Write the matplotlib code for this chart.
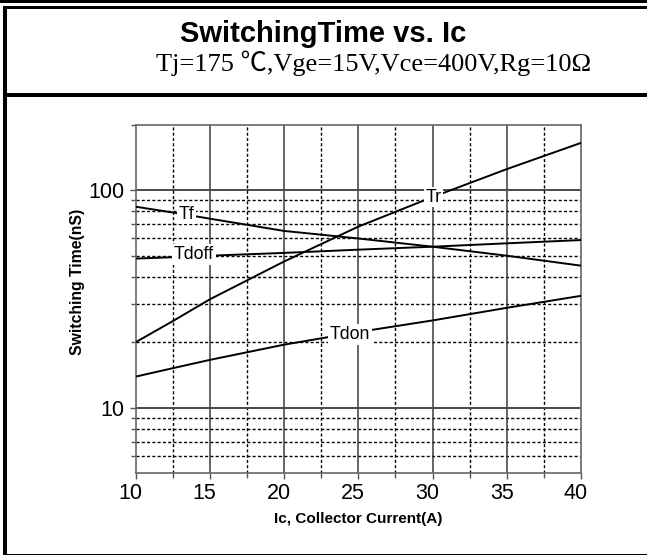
import matplotlib
matplotlib.use("Agg")
import matplotlib.pyplot as plt
from matplotlib.patches import Rectangle
from matplotlib.transforms import ScaledTranslation
from matplotlib.ticker import FixedLocator, NullFormatter, FixedFormatter

# ---- data ----
ic = [10, 12.5, 15, 20, 25, 30, 35, 40]
tr = [20, 25, 31.5, 47, 68, 93, 125, 165]
tf = [84, 79, 74, 65, 60, 55, 50, 45]
tdoff = [48.5, 49.2, 50, 51.5, 53.3, 55, 57, 59]
tdon = [13.9, 15.2, 16.6, 19.5, 22.3, 25.2, 28.8, 32.7]

title = "SwitchingTime vs. Ic"
subtitle = "Tj=175 \u2103,Vge=15V,Vce=400V,Rg=10\u03a9"
xlabel = "Ic, Collector Current(A)"
ylabel = "Switching Time(nS)"
x_major = [10, 15, 20, 25, 30, 35, 40]
x_minor = [12.5, 17.5, 22.5, 27.5, 32.5, 37.5]
y_major = [10, 100]
y_minor = [6, 7, 8, 9, 20, 30, 40, 50, 60, 70, 80, 90, 200]
y_grid_minor = [6, 7, 8, 9, 20, 30, 40, 50, 60, 70, 80, 90]

W, H = 647, 556
plt.rcParams['font.family'] = ['Liberation Sans', 'DejaVu Sans']
fig = plt.figure(figsize=(W / 100, H / 100), dpi=100)
fig.patch.set_facecolor('white')


def rect(x0, y0, x1, y1):
    # pixel coords (top-left origin) -> figure fraction
    fig.add_artist(Rectangle((x0 / W, 1 - y1 / H), (x1 - x0) / W, (y1 - y0) / H,
                             transform=fig.transFigure, facecolor='black',
                             edgecolor='none', zorder=10))


rect(0, 0, W, 3)
rect(3.3, 5.7, W, 9.3)
rect(3.3, 5.7, 7.3, 555)
rect(3.3, 92.7, W, 96.7)
rect(3.3, 553.6, W, 555.2)

fig.text(323.5 / W, 1 - 34 / H, title, ha='center', va='center',
         fontsize=21, fontweight='bold', family=['Liberation Sans', 'DejaVu Sans'])
fig.text(373.5 / W, 1 - 63 / H, subtitle, ha='center', va='center',
         fontsize=19, family=['Liberation Serif', 'Noto Sans CJK SC', 'DejaVu Serif'])

L, R, T, B = 135.5, 581, 124.7, 473.3
ax = fig.add_axes([L / W, 1 - B / H, (R - L) / W, (B - T) / H])
ax.set_yscale('log')
ax.set_xlim(10, 40)
ax.set_ylim(5, 200)

for v in x_minor:
    ax.axvline(v, color='black', lw=1.0, ls=(0, (2.2, 1.6)), zorder=1)
for v in y_grid_minor:
    ax.axhline(v, color='black', lw=1.0, ls=(0, (2.2, 1.6)), zorder=1)
for v in x_major[1:-1]:
    ax.axvline(v, color='#3a3a3a', lw=1.1, zorder=1.2)
for v in y_major:
    ax.axhline(v, color='#4a4a4a', lw=1.4, zorder=1.2)

lw = 1.4
ax.plot(ic, tr, color='black', lw=lw, zorder=3)
ax.plot(ic, tf, color='black', lw=lw, zorder=3)
ax.plot(ic, tdoff, color='black', lw=lw, zorder=3)
ax.plot(ic, tdon, color='black', lw=lw, zorder=3)

fs = 12.8
ax.text(13.43, 77.4, "Tf", ha='center', va='center', fontsize=fs,
        bbox=dict(facecolor='white', edgecolor='none', pad=1.0), zorder=4)
ax.text(13.94, 50.8, "Tdoff", ha='center', va='center', fontsize=fs,
        bbox=dict(facecolor='white', edgecolor='none', pad=1.5), zorder=4)
ax.text(30.05, 92.8, "Tr", ha='center', va='center', fontsize=fs,
        bbox=dict(facecolor='white', edgecolor='none', pad=1.0), zorder=4)
ax.text(24.44, 21.8, "Tdon", ha='center', va='center', fontsize=fs,
        bbox=dict(facecolor='white', edgecolor='none', pad=1.5), zorder=4)

ax.xaxis.set_major_locator(FixedLocator(x_major))
ax.xaxis.set_minor_locator(FixedLocator(x_minor))
ax.xaxis.set_minor_formatter(NullFormatter())
ax.set_xticklabels([str(v) for v in x_major])
ax.yaxis.set_major_locator(FixedLocator(y_major))
ax.yaxis.set_major_formatter(FixedFormatter([str(v) for v in y_major]))
ax.yaxis.set_minor_locator(FixedLocator(y_minor))
ax.yaxis.set_minor_formatter(NullFormatter())

ax.tick_params(which='major', direction='out', length=4, width=1, color='#555555',
               labelsize=15.5)
ax.tick_params(axis='y', which='major', pad=4)
ax.tick_params(axis='x', which='major', pad=3)
ax.tick_params(which='minor', direction='out', length=3.5, width=1, color='#555555')
for s in ax.spines.values():
    s.set_color('#666666')
    s.set_linewidth(1.2)

shift = ScaledTranslation(-5 / 100, 0, fig.dpi_scale_trans)
for lab in ax.get_xticklabels():
    lab.set_transform(lab.get_transform() + shift)

ax.set_xlabel(xlabel, fontsize=11, fontweight='bold', labelpad=6)
ax.set_ylabel(ylabel, fontsize=11.3, fontweight='bold')
ax.yaxis.set_label_coords((85 - L) / (R - L), (B - 282) / (B - T))

fig.savefig('out.png', dpi=100)
